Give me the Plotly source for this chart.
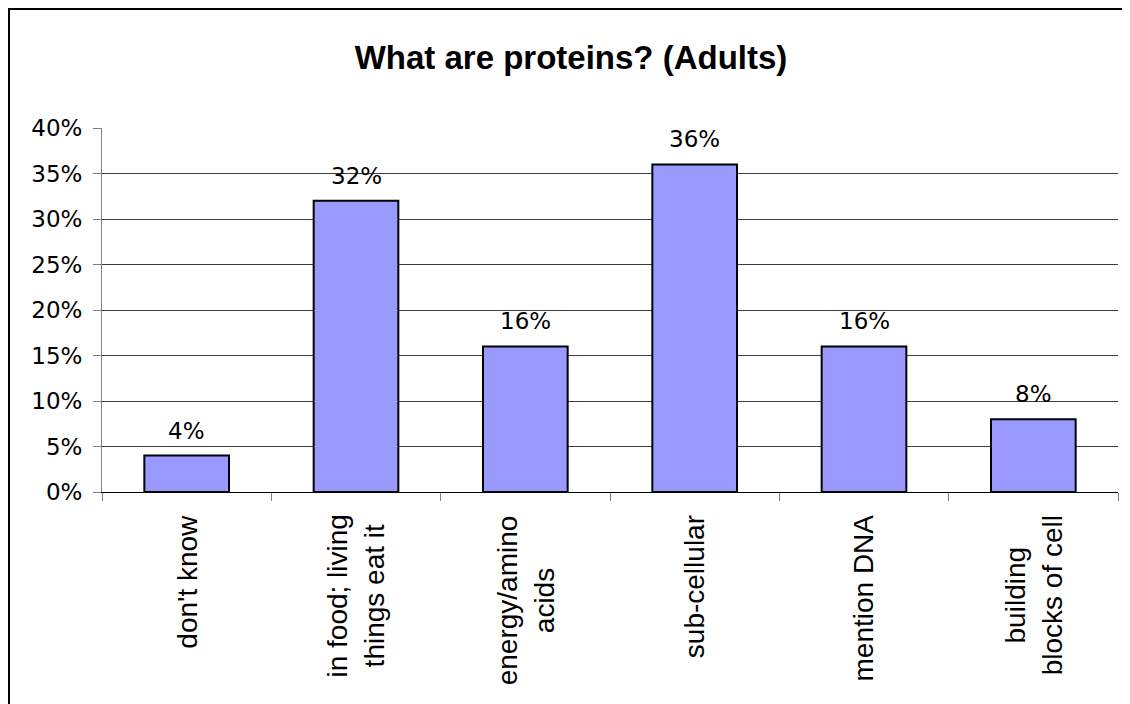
import plotly.graph_objects as go

categories = ["don't know", "in food; living<br>things eat it", "energy/amino<br>acids",
              "sub-cellular", "mention DNA", "building<br>blocks of cell"]
values = [0.04, 0.32, 0.16, 0.36, 0.16, 0.08]
y_ticks = [0, 0.05, 0.10, 0.15, 0.20, 0.25, 0.30, 0.35, 0.40]
title_text = "What are proteins? (Adults)"

# page body has an 8px margin in the browser; compensate so the page fits the window
OFF = 8
W, H = 1130 - OFF, 704 - OFF
L, T, PW, PH = 102 - OFF, 128 - OFF, 1016, 364

fig = go.Figure()
fig.add_trace(go.Bar(
    x=categories, y=values,
    marker=dict(color="#9999FF", line=dict(color="black", width=2)),
    hoverinfo="skip",
))

annotations = []
for c, v in zip(categories, values):
    annotations.append(dict(
        x=c, y=v, xref="x", yref="y", text=f"{round(v*100)}%", showarrow=False,
        yanchor="bottom", xanchor="center", yshift=10,
        font=dict(family="DejaVu Sans", size=23, color="black"),
    ))
    annotations.append(dict(
        x=c, y=-0.0577, xref="x", yref="paper", text=c, showarrow=False,
        textangle=-90, yanchor="top", xanchor="center", align="center",
        font=dict(family="Liberation Sans, Arial", size=28, color="black"),
    ))

fig.update_layout(
    width=W, height=H,
    margin=dict(l=L, r=W - L - PW, t=T, b=H - T - PH, pad=0),
    paper_bgcolor="white", plot_bgcolor="white",
    showlegend=False,
    bargap=0.5,
    title=dict(text=f"<b>{title_text}</b>", x=(571 - OFF)/W, xref="container", xanchor="center",
               y=1 - (57 - OFF)/H, yref="container", yanchor="middle",
               font=dict(family="Liberation Sans, Arial", size=33, color="black")),
    xaxis=dict(type="category", range=[-0.5, 5.5], showticklabels=False, ticks="outside",
               tickson="boundaries", ticklen=8, tickcolor="#808080", tickwidth=1,
               showline=True, linecolor="black", linewidth=1, showgrid=False, zeroline=False),
    yaxis=dict(range=[0, 0.4], tickvals=y_ticks, tickformat=".0%", showgrid=True,
               gridcolor="#3c3c3c", gridwidth=1, showline=True, linecolor="#808080",
               linewidth=1, ticks="outside", ticklen=8, tickcolor="#808080",
               ticklabelstandoff=6, zeroline=False,
               tickfont=dict(family="DejaVu Sans", size=23, color="black")),
    annotations=annotations,
    shapes=[dict(type="rect", xref="paper", yref="paper",
                 x0=(1 - L) / PW, x1=1.05, y0=-0.7, y1=(T + PH - 1) / PH,
                 line=dict(color="black", width=2), fillcolor="rgba(0,0,0,0)", layer="above")],
)

fig.write_html("out.html")
